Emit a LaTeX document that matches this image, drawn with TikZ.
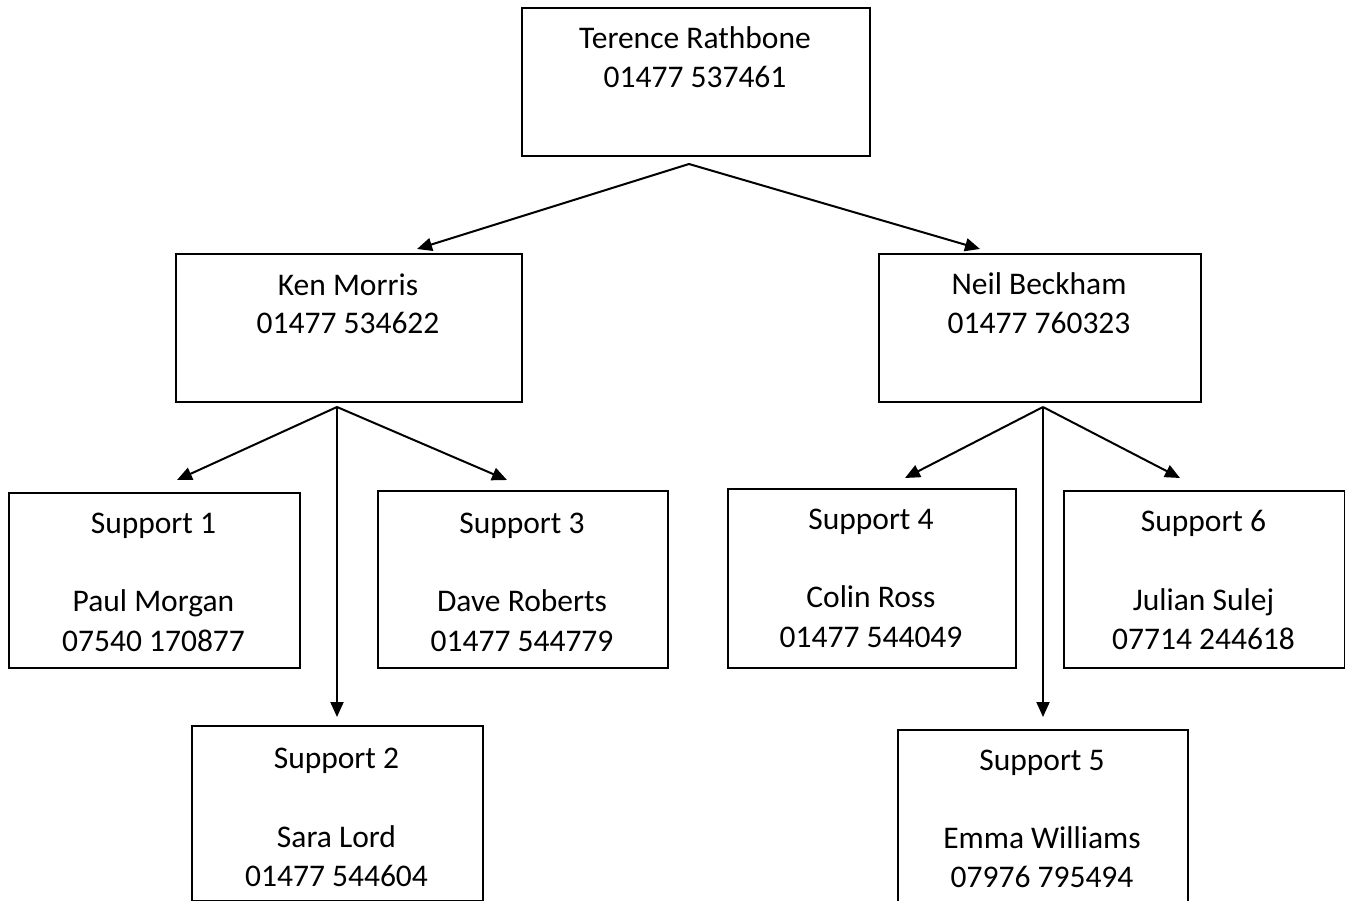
\documentclass[tikz,border=0pt]{standalone}
\usepackage{fontspec}
\setmainfont{Carlito}
\usetikzlibrary{arrows.meta}
\begin{document}
\begin{tikzpicture}[x=1pt,y=-1pt,
  box/.style={draw=black,line width=2pt,inner sep=0pt,anchor=north west,fill=none},
  txt/.style={anchor=base,inner sep=0pt,font=\fontsize{31.5}{39}\selectfont},
  arr/.style={draw=black,line width=2pt,-{Triangle[length=15pt,width=13pt]}}]
\clip (0,0) rectangle (1345,901);
\fill[white] (0,0) rectangle (1345,901);
% boxes
\node[box,minimum width=348pt,minimum height=148pt] (top) at (521,7) {};
\node[box,minimum width=346pt,minimum height=148pt] (ken) at (175,253) {};
\node[box,minimum width=322pt,minimum height=148pt] (neil) at (878,253) {};
\node[box,minimum width=291pt,minimum height=175pt] (s1) at (8,492) {};
\node[box,minimum width=290pt,minimum height=177pt] (s3) at (377,490) {};
\node[box,minimum width=291pt,minimum height=175pt] (s2) at (191,725) {};
\node[box,minimum width=288pt,minimum height=179pt] (s4) at (727,488) {};
\node[box,minimum width=281pt,minimum height=177pt] (s6) at (1063,490) {};
\node[box,minimum width=290pt,minimum height=190pt] (s5) at (897,729) {};
% texts
\node[txt] (topa) at (695,49) {Terence Rathbone};
\node[txt] (topb) at (695,88) {01477 537461};
\node[txt] (kena) at (348,296) {Ken Morris};
\node[txt] (kenb) at (348,334) {01477 534622};
\node[txt] (neila) at (1039,295) {Neil Beckham};
\node[txt] (neilb) at (1039,334) {01477 760323};
\node[txt] (s1a) at (153.5,533) {Support 1};
\node[txt] (s1b) at (153.5,611) {Paul Morgan};
\node[txt] (s1c) at (153.5,651) {07540 170877};
\node[txt] (s3a) at (522,533) {Support 3};
\node[txt] (s3b) at (522,611) {Dave Roberts};
\node[txt] (s3c) at (522,651) {01477 544779};
\node[txt] (s2a) at (336.5,768) {Support 2};
\node[txt] (s2b) at (336.5,847) {Sara Lord};
\node[txt] (s2c) at (336.5,886) {01477 544604};
\node[txt] (s4a) at (871,529) {Support 4};
\node[txt] (s4b) at (871,607) {Colin Ross};
\node[txt] (s4c) at (871,647) {01477 544049};
\node[txt] (s6a) at (1203.5,531) {Support 6};
\node[txt] (s6b) at (1203.5,610) {Julian Sulej};
\node[txt] (s6c) at (1203.5,649) {07714 244618};
\node[txt] (s5a) at (1042,770) {Support 5};
\node[txt] (s5b) at (1042,848) {Emma Williams};
\node[txt] (s5c) at (1042,887) {07976 795494};
% connector end points
\coordinate (topO) at (689,164);
\coordinate (kenT) at (417,249);
\coordinate (neilT) at (980,249);
\coordinate (kenO) at (337,407);
\coordinate (s1T) at (177,480);
\coordinate (s2T) at (337,717);
\coordinate (s3T) at (507,480);
\coordinate (neilO) at (1043,407);
\coordinate (s4T) at (905,478);
\coordinate (s5T) at (1043,717);
\coordinate (s6T) at (1180,478);
% connectors
\draw[arr] (topO) -- (kenT);
\draw[arr] (topO) -- (neilT);
\draw[arr] (kenO) -- (s1T);
\draw[arr] (kenO) -- (s2T);
\draw[arr] (kenO) -- (s3T);
\draw[arr] (neilO) -- (s4T);
\draw[arr] (neilO) -- (s5T);
\draw[arr] (neilO) -- (s6T);
\end{tikzpicture}
\end{document}
